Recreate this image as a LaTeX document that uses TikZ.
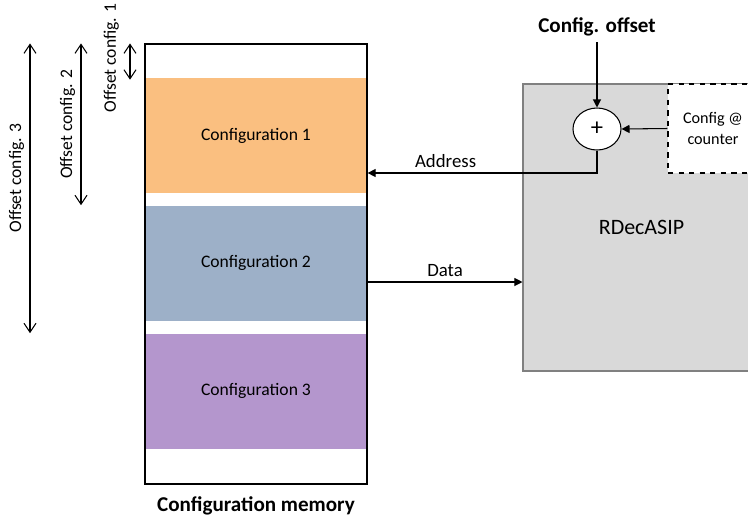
\documentclass[tikz,border=0pt]{standalone}
\usepackage{fontspec}
\setmainfont{Carlito}
\usetikzlibrary{arrows.meta,shapes.geometric,positioning}

\definecolor{cfgorange}{RGB}{250,191,128}
\definecolor{cfgblue}{RGB}{157,176,200}
\definecolor{cfgpurple}{RGB}{180,150,205}
\definecolor{asipgray}{RGB}{217,217,217}
\definecolor{asipline}{RGB}{128,128,128}

\tikzset{
  cfgblock/.style={minimum width=44.4mm, minimum height=23mm, inner sep=0pt,
    font=\fontsize{10}{12}\selectfont},
  offsetarrow/.style={line width=0.6pt,
    {Straight Barb[length=1.8mm,width=2.4mm]}-{Straight Barb[length=1.8mm,width=2.4mm]}},
  offsetlabel/.style={rotate=90, anchor=south, inner sep=3pt,
    font=\fontsize{10}{12}\selectfont},
  signal/.style={line width=0.6pt, -{Triangle[length=1.6mm,width=1.6mm]}},
  siglabel/.style={above, inner sep=2.5pt, font=\fontsize{10.7}{12}\selectfont},
  boldlabel/.style={font=\fontsize{12}{14}\selectfont\bfseries}
}

\begin{document}
\begin{tikzpicture}[x=0.2mm, y=-0.2mm]
                \clip (0,0) rectangle (748,521);
                
                % Drawing configuration blocks
                \node [cfgblock, fill=cfgorange] (cfg1) at (256,135.5) {Configuration 1};%
                \node [cfgblock, fill=cfgblue] (cfg2) at (256,263) {Configuration 2};%
                \node [cfgblock, fill=cfgpurple] (cfg3) at (256,391) {Configuration 3};%
                
                % Drawing memory outline
                \node [draw, line width=0.7pt, minimum width=44.4mm, minimum height=88mm, inner sep=0pt] (mem) at (256,264) {};%
                \node [boldlabel] (memlabel) at (256,506) {Configuration memory};%
                
                % Drawing offset arrows
                \coordinate (off1) at (130,0);%
                \coordinate (off2) at (81,0);%
                \coordinate (off3) at (30,0);%
                \draw [offsetarrow] (mem.north -| off1) -- ([yshift=-0.4mm]cfg1.north -| off1) node [offsetlabel, inner sep=6pt, pos=0.4] {Offset config. 1};%
                \draw [offsetarrow] (mem.north -| off2) -- (cfg2.north -| off2) node [offsetlabel, pos=0.5] {Offset config. 2};%
                \draw [offsetarrow] (mem.north -| off3) -- (cfg3.north -| off3) node [offsetlabel, pos=0.465] {Offset config. 3};%
                
                % Drawing RDecASIP
                \node [draw=asipline, fill=asipgray, line width=0.6pt, minimum width=47.4mm, minimum height=57.4mm, inner sep=0pt,
                  font=\fontsize{12.5}{14}\selectfont] (asip) at (641.5,227.5) {RDecASIP};%
                \node [draw, dashed, fill=white, line width=0.6pt, minimum width=18mm, minimum height=17.8mm, inner sep=0pt, align=center,
                  font=\fontsize{9.2}{11.5}\selectfont] (counter) at (713,128.5) {Config @\\counter};%
                
                % Drawing adder
                \node [ellipse, draw, fill=white, line width=0.6pt, minimum width=9.6mm, minimum height=8.4mm, inner sep=0pt,
                  font=\fontsize{14}{16}\selectfont] (adder) at (597,129) {+};%
                \node [boldlabel] (offset) at (597,27) {Config. offset};%
                
                % Drawing signals
                \draw [signal] (offset) -- (adder);%
                \draw [signal] (counter.west) -- (adder.east);%
                \coordinate (addr) at (450,173);%
                \coordinate (dat) at (450,282);%
                \draw [signal] (adder.south) |- (mem.east |- addr) node [siglabel, pos=0.83] {Address};%
                \draw [signal] (mem.east |- dat) -- (asip.west |- dat) node [siglabel, midway] {Data};%
\end{tikzpicture}
\end{document}
